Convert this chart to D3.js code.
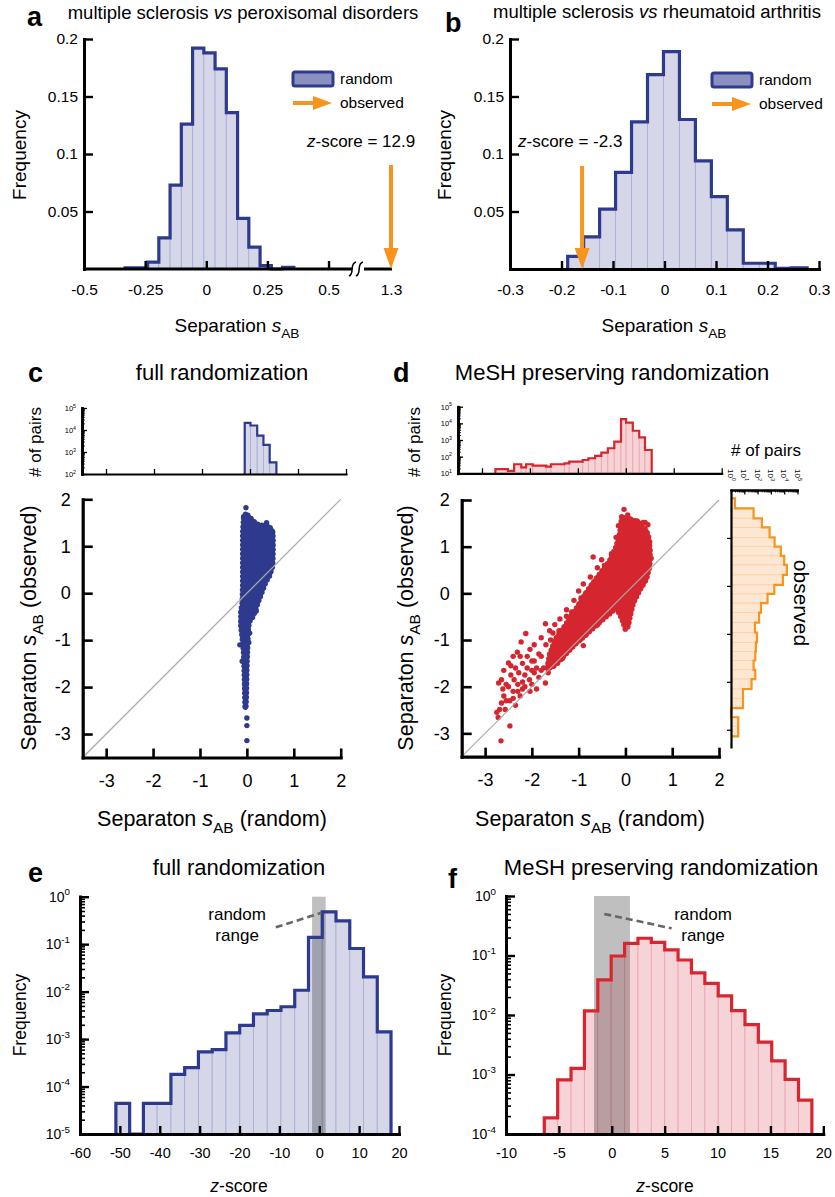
<!DOCTYPE html>
<html><head><meta charset="utf-8">
<script src="https://cdn.jsdelivr.net/npm/d3@7"></script>
<style>body{margin:0;background:#fff}svg{display:block;background:#fff}</style>
</head><body><svg id="c" width="835" height="1197"></svg>
<script>
// ---------------- DATA ----------------
// panel a: random separation histogram (MS vs peroxisomal disorders)
const aEdges = [-0.332,-0.286,-0.240,-0.194,-0.148,-0.102,-0.056,-0.010,0.036,0.082,0.128,0.174,0.220,0.266,0.312,0.358];
const aFreq  = [0.001,0.001,0.006,0.027,0.073,0.126,0.192,0.188,0.174,0.136,0.044,0.019,0.003,0,0.0015];
const aXTicks = [-0.5,-0.25,0,0.25,0.5,1.3];
const aYTicks = [0.05,0.1,0.15,0.2];
const aObserved = 1.3, aZ = "12.9";
// panel b: MS vs rheumatoid arthritis
const bEdges = [-0.188,-0.157,-0.126,-0.095,-0.064,-0.033,-0.002,0.029,0.060,0.091,0.122,0.153,0.184,0.215,0.246,0.277];
const bFreq  = [0.011,0.028,0.052,0.084,0.128,0.169,0.189,0.130,0.094,0.063,0.034,0.005,0.005,0.0005,0.001];
const bXTicks = [-0.3,-0.2,-0.1,0,0.1,0.2,0.3];
const bYTicks = [0.05,0.1,0.15,0.2];
const bObserved = -0.16, bZ = "-2.3";
const legendLabels = ["random","observed"];
// panel c: top histogram of random separations (# of pairs)
const cTopEdges  = [-0.11,0.01,0.15,0.28,0.41,0.55];
const cTopCounts = [21000,16000,5600,2100,340];
// panel d: top histogram
const dTopEdges  = [-2.72,-2.46,-2.33,-2.18,-2.08,-1.94,-1.66,-1.56,-1.28,-1.18,-0.90,-0.78,-0.64,-0.51,-0.375,-0.24,-0.10,0.006,0.146,0.28,0.40,0.54];
const dTopCounts = [18,14,35,23,35,29,25,35,40,50,63,80,110,175,320,800,18000,11000,3600,1450,250];
// panel d: right histogram of observed separations (bins top to bottom)
const dRightEdges  = [1.826,1.618,1.41,1.22,1.01,0.82,0.625,0.4375,0.229,0.021,-0.167,-0.36,-0.556,-0.764,-0.972,-1.18,-1.368,-1.556,-1.75,-1.944,-2.15,-2.35,-2.55,-2.74,-2.93,-3.14];
const dRightCounts = [2,50,210,800,1900,5600,10000,16000,8000,1800,560,180,130,63,90,75,67,50,67,35,8,8,1,3.5,3.5];
const scatterTicks = [-3,-2,-1,0,1,2];
// panel c scatter: dense cloud outline (random, observed) and isolated points
const cCloud = [[-0.07,1.63],[0.02,1.66],[0.1,1.58],[0.2,1.48],[0.3,1.45],[0.42,1.45],[0.46,1.43],[0.54,1.35],[0.56,1.2],[0.56,0.9],[0.55,0.57],[0.48,0.36],[0.41,0.25],[0.34,0.07],[0.21,-0.28],[0.14,-0.49],[0.05,-0.62],[0.03,-0.8],[0.02,-1.06],[0.0,-1.63],[-0.01,-2.2],[-0.02,-2.45],[-0.04,-2.45],[-0.05,-2.0],[-0.06,-1.6],[-0.07,-1.3],[-0.1,-0.95],[-0.13,-0.7],[-0.13,-0.4],[-0.1,-0.2],[-0.09,0.2],[-0.09,0.8],[-0.09,1.3]];
const cDots = [[-0.02,1.82],[0.0,-2.66],[0.0,-2.82],[0.0,-3.14],[-0.15,-1.1],[-0.03,1.68],[0.42,1.5],[0.5,1.36],[0.55,1.3],[-0.1,-1.45],[0.04,-1.05],[0.06,-0.85],[0.2,-0.38],[-0.12,-0.62]];
// panel d scatter
const dCloud = [[-0.08,1.64],[0.1,1.6],[0.31,1.5],[0.45,1.35],[0.5,1.2],[0.53,0.9],[0.52,0.58],[0.45,0.3],[0.3,0.05],[0.17,-0.21],[0.1,-0.5],[0.06,-0.71],[0.0,-0.78],[-0.06,-0.6],[-0.12,-0.45],[-0.2,-0.32],[-0.35,-0.45],[-0.55,-0.62],[-0.8,-0.85],[-1.04,-1.06],[-1.3,-1.33],[-1.55,-1.58],[-1.68,-1.62],[-1.62,-1.3],[-1.5,-0.98],[-1.3,-0.7],[-1.04,-0.3],[-0.8,0.08],[-0.55,0.42],[-0.35,0.68],[-0.2,1.0],[-0.12,1.3]];
const dDots = [[-0.03,1.8],[-0.69,0.78],[-0.51,0.72],[-0.6,0.55],[-0.75,0.35],[-0.9,0.2],[-1.0,0.05],[-1.1,-0.15],[-1.26,-0.35],[-1.26,-0.49],[-1.4,-0.55],[-1.51,-0.67],[-1.71,-0.65],[-1.62,-0.8],[-1.8,-0.95],[-2.13,-0.86],[-2.23,-1.04],[-1.95,-1.1],[-2.04,-1.2],[-2.31,-1.26],[-2.1,-1.35],[-2.5,-1.49],[-2.2,-1.5],[-1.95,-1.45],[-2.35,-1.6],[-2.0,-1.65],[-2.6,-1.65],[-2.45,-1.75],[-2.15,-1.75],[-1.85,-1.8],[-2.71,-1.92],[-2.55,-1.95],[-2.3,-1.95],[-2.0,-1.95],[-1.71,-1.92],[-2.04,-2.1],[-2.4,-2.1],[-2.6,-2.2],[-2.25,-2.2],[-2.47,-2.3],[-2.69,-2.49],[-2.57,-2.49],[-2.72,-2.66],[-2.47,-2.84],[-2.66,-3.16],[-0.9,-1.12],[-1.04,-0.93],[-1.2,-1.2],[-1.5,-1.35],[-1.6,-1.5],[-1.75,-1.6],[-2.4,-1.35],[-2.65,-1.85],[-2.35,-2.4],[-1.9,-2.05],[-0.45,0.6],[-0.3,0.85],[-0.2,1.2],[0.48,1.47],[0.42,1.52],[-1.8,-1.35],[-1.9,-1.6],[-2.2,-1.9],[-1.45,-1.15],
  [-2.55,-2.3],[-2.62,-2.05],[-2.5,-2.0],[-2.38,-1.85],[-2.28,-1.7],[-2.1,-1.6],[-1.95,-1.7],[-2.25,-1.35],[-2.45,-1.55],[-2.15,-2.0],[-2.3,-2.1],[-2.0,-1.45],[-1.85,-1.3],[-1.7,-1.1],[-1.6,-1.0],[-1.55,-0.85],[-1.42,-0.8],[-1.35,-0.95],[-1.2,-0.55],[-1.15,-0.4],[-0.95,-0.1],[-0.85,0.0],[-0.7,0.2],[-0.62,0.3],[-0.4,0.55],[-0.28,0.75],[-0.15,1.45],[0.05,1.68],[0.25,1.55],[0.38,1.52],[0.52,1.1],[0.55,0.75],[-1.45,-1.5],[-1.8,-1.65],[-1.65,-1.7],[-1.1,-1.05],[-0.85,-0.9],[-0.6,-0.68],[-0.95,-0.98],[-1.35,-1.4],[-2.4,-2.25],[-2.2,-2.05],[-2.05,-1.85],[-2.65,-2.35],[-2.75,-2.55]];
// panel e: z-score distribution, full randomization
const eEdges = [-51,-47.55,-44.1,-40.65,-37.2,-33.75,-30.3,-26.85,-23.4,-19.95,-16.5,-13.05,-9.6,-6.15,-2.7,0.75,4.2,7.65,11.1,14.55,18.0];
const eFreq  = [4.4e-5,null,4.4e-5,4.4e-5,1.8e-4,2.5e-4,5.4e-4,6e-4,1.35e-3,1.95e-3,3.4e-3,4e-3,4.8e-3,1.07e-2,0.139,0.48,0.31,0.081,0.0205,1.42e-3];
const eXTicks = [-60,-50,-40,-30,-20,-10,0,10,20];
const eRange = [-1.8,1.6];
// panel f: z-score distribution, MeSH preserving randomization
const fEdges = [-6.38,-5.115,-3.85,-2.585,-1.32,-0.055,1.21,2.475,3.74,5.005,6.27,7.535,8.8,10.065,11.33,12.595,13.86,15.125,16.39,17.655,18.92];
const fFreq  = [1.87e-4,8.1e-4,1.27e-3,0.0117,0.039,0.098,0.16,0.195,0.166,0.124,0.084,0.051,0.034,0.021,0.0118,0.0069,0.0035,0.0017,8.3e-4,3.7e-4];
const fXTicks = [-10,-5,0,5,10,15,20];
const fRange = [-1.68,1.72];

// ---------------- STYLE / HELPERS ----------------
const FONT = '"Liberation Sans", Arial, Helvetica, sans-serif';
const NAVY = '#2d3a8e', REDC = '#d52630', ORANGEC = '#f7941d';
const BLUE = {fill:'#d5d7e9', inner:'#aaaed5', stroke:NAVY};
const RED = {fill:'#f6d3d7', inner:'#eba7ae', stroke:'#d7262f'};
const ORANGE = {fill:'#fde7d2', inner:'#fbd2aa', stroke:ORANGEC};
const svg = d3.select('#c').attr('font-family', FONT);

function vBars(g, edges, vals, x, y, base, st) {
  const bins = vals.map((v,i)=>({a:edges[i], b:edges[i+1], v:(v==null||v<base)?base:v}));
  g.append('g').selectAll('rect').data(bins).join('rect')
    .attr('x', d=>x(d.a)).attr('width', d=>x(d.b)-x(d.a))
    .attr('y', d=>y(d.v)).attr('height', d=>Math.max(0,y(base)-y(d.v)))
    .attr('fill', st.fill).attr('stroke', st.inner).attr('stroke-width', 0.9);
}
function vOutline(g, edges, vals, x, y, base, st, w) {
  const pts=[[x(edges[0]), y(base)]];
  vals.forEach((v,i)=>{const vv=(v==null||v<base)?base:v; pts.push([x(edges[i]),y(vv)],[x(edges[i+1]),y(vv)]);});
  pts.push([x(edges[edges.length-1]), y(base)]);
  g.append('path').attr('d', d3.line()(pts)).attr('fill','none').attr('stroke',st.stroke)
    .attr('stroke-width',w).attr('stroke-linejoin','miter');
}
function hBars(g, edges, vals, x, y, base, st) {
  const bins = vals.map((v,i)=>({a:edges[i], b:edges[i+1], v:(v==null||v<base)?base:v}));
  g.append('g').selectAll('rect').data(bins).join('rect')
    .attr('y', d=>y(d.a)).attr('height', d=>y(d.b)-y(d.a))
    .attr('x', x(base)).attr('width', d=>x(d.v)-x(base))
    .attr('fill', st.fill).attr('stroke', st.inner).attr('stroke-width', 0.9);
}
function hOutline(g, edges, vals, x, y, base, st, w) {
  const pts=[[x(base), y(edges[0])]];
  vals.forEach((v,i)=>{const vv=(v==null||v<base)?base:v; pts.push([x(vv),y(edges[i])],[x(vv),y(edges[i+1])]);});
  pts.push([x(base), y(edges[edges.length-1])]);
  g.append('path').attr('d', d3.line()(pts)).attr('fill','none').attr('stroke',st.stroke)
    .attr('stroke-width',w).attr('stroke-linejoin','miter');
}
function ax(g, axis, tx, ty, fs, sw, tw) {
  const s = g.append('g').attr('transform',`translate(${tx},${ty})`).call(axis);
  s.attr('font-family', FONT).attr('font-size', fs);
  s.select('.domain').attr('stroke','#000').attr('stroke-width', sw).attr('stroke-linecap','square');
  s.selectAll('.tick line').attr('stroke','#000').attr('stroke-width', tw||sw);
  s.selectAll('.tick text').attr('fill','#000');
  return s;
}
function supLabels(s, fs) {
  s.selectAll('.tick text').each(function(d){
    const t=d3.select(this); const e=Math.round(Math.log10(d));
    t.text(null);
    t.append('tspan').text('10');
    t.append('tspan').attr('dy', -fs*0.45).attr('font-size', fs*0.7).text(e);
  });
}
function logTicks(lo, hi) {
  const out=[];
  for (let e=Math.round(Math.log10(lo)); e<Math.round(Math.log10(hi)); e++)
    for (let k=1;k<=9;k++){ const v=k*Math.pow(10,e); if(v>=lo && v<=hi) out.push(v); }
  out.push(hi); return out;
}
function decades(lo, hi){ const o=[]; for(let e=Math.round(Math.log10(lo)); e<=Math.round(Math.log10(hi)); e++) o.push(Math.pow(10,e)); return o; }
function text(g, x, y, s, fs, opts={}) {
  const t = g.append('text').attr('x',x).attr('y',y).attr('font-size',fs).attr('fill','#000')
    .attr('text-anchor', opts.anchor||'start');
  if (opts.weight) t.attr('font-weight', opts.weight);
  if (s!=null) t.text(s);
  return t;
}
function rtext(g, x, y, fs, angle) {
  return g.append('text').attr('transform',`translate(${x},${y}) rotate(${angle})`)
    .attr('text-anchor','middle').attr('font-size',fs).attr('fill','#000');
}
function sAB(t, fs, before, after) {
  if (before) t.append('tspan').text(before);
  t.append('tspan').attr('font-style','italic').text('s');
  t.append('tspan').attr('dy', fs*0.32).attr('font-size', fs*0.72).text('AB');
  if (after) t.append('tspan').attr('dy', -fs*0.32).text(after);
}
function zText(t, after) {
  t.append('tspan').attr('font-style','italic').text('z');
  t.append('tspan').text(after);
}
function downArrow(g, x, yTop, yTip) {
  g.append('line').attr('x1',x).attr('x2',x).attr('y1',yTop).attr('y2',yTip-16)
    .attr('stroke',ORANGEC).attr('stroke-width',4);
  g.append('path').attr('d',`M${x-7.5},${yTip-21} L${x+7.5},${yTip-21} L${x},${yTip} Z`).attr('fill',ORANGEC);
}
function legend(g, x, y) {
  g.append('rect').attr('x',x).attr('y',y).attr('width',40).attr('height',14).attr('rx',2)
    .attr('fill','#8a90c0').attr('stroke',NAVY).attr('stroke-width',3);
  text(g, x+47, y+12, legendLabels[0], 15.5);
  g.append('line').attr('x1',x).attr('x2',x+22).attr('y1',y+31).attr('y2',y+31).attr('stroke',ORANGEC).attr('stroke-width',4);
  g.append('path').attr('d',`M${x+20},${y+24} L${x+39},${y+31} L${x+20},${y+38} Z`).attr('fill',ORANGEC);
  text(g, x+47, y+36, legendLabels[1], 15.5);
}
function cloud(g, pts, dots, x, y, col) {
  const d = d3.line().x(p=>x(p[0])).y(p=>y(p[1])).curve(d3.curveLinearClosed)(pts);
  g.append('path').attr('d', d).attr('fill',col).attr('stroke',col).attr('stroke-width',3.5).attr('stroke-linejoin','round');
  g.append('path').attr('d', d).attr('fill','none').attr('stroke',col).attr('stroke-width',5.4)
    .attr('stroke-linecap','round').attr('stroke-dasharray','0 4.5');
  g.append('g').selectAll('circle').data(dots).join('circle').attr('cx',p=>x(p[0])).attr('cy',p=>y(p[1])).attr('r',2.7).attr('fill',col);
  g.append('path').attr('d', d3.line().x(p=>x(p[0])).y(p=>y(p[1]))([[-3.5,-3.5],[2,2]])).attr('stroke','#aaa').attr('stroke-width',1.2).attr('fill','none');
}

// ---------------- PANEL a ----------------
{
  const g = svg.append('g');
  const x = d3.scaleLinear().domain([-0.5,0.6,1.3]).range([84,353,391]);
  const y = d3.scaleLinear().domain([0,0.2]).range([269,39]);
  vBars(g, aEdges, aFreq, x, y, 0, BLUE);
  vOutline(g, aEdges, aFreq, x, y, 0, BLUE, 3.2);
  const xs = ax(g, d3.axisBottom(x).tickValues(aXTicks).tickFormat(String).tickSize(-8).tickSizeOuter(0).tickPadding(15), 0, 269, 15.5, 3, 2.4);
  xs.select('.domain').remove();
  xs.selectAll('.tick').filter(d=>d===1.3).select('line').remove();
  g.append('line').attr('x1',83).attr('x2',352).attr('y1',269).attr('y2',269).attr('stroke','#000').attr('stroke-width',3);
  g.append('line').attr('x1',364).attr('x2',392).attr('y1',269).attr('y2',269).attr('stroke','#000').attr('stroke-width',3);
  g.append('path').attr('d','M349,276 C355,274 349,264 356,262').attr('fill','none').attr('stroke','#000').attr('stroke-width',1.5);
  g.append('path').attr('d','M356,276 C362,274 356,264 363,262').attr('fill','none').attr('stroke','#000').attr('stroke-width',1.5);
  ax(g, d3.axisLeft(y).tickValues(aYTicks).tickFormat(String).tickSize(-9).tickSizeOuter(0).tickPadding(6), 84, 0, 15.5, 3, 2.4);
  legend(g, 293, 72);
  zText(text(g, 307, 147, null, 17), '-score = ' + aZ);
  downArrow(g, x(aObserved), 165, 269);
  const tt = text(g, 243, 19, null, 18.5, {anchor:'middle'});
  tt.append('tspan').text('multiple sclerosis ');
  tt.append('tspan').attr('font-style','italic').text('vs');
  tt.append('tspan').text(' peroxisomal disorders');
  text(g, 27, 26, 'a', 27, {weight:'bold'});
  rtext(g, 26, 155, 19, -90).text('Frequency');
  sAB(text(g, 237, 332, null, 19, {anchor:'middle'}), 19, 'Separation ');
}
// ---------------- PANEL b ----------------
{
  const g = svg.append('g');
  const x = d3.scaleLinear().domain([-0.3,0.3]).range([510,819]);
  const y = d3.scaleLinear().domain([0,0.2]).range([269,39]);
  vBars(g, bEdges, bFreq, x, y, 0, BLUE);
  vOutline(g, bEdges, bFreq, x, y, 0, BLUE, 3.2);
  ax(g, d3.axisBottom(x).tickValues(bXTicks).tickFormat(d=>String(+d.toFixed(2))).tickSize(-8).tickSizeOuter(0).tickPadding(15), 0, 269, 15.5, 3, 2.4);
  ax(g, d3.axisLeft(y).tickValues(bYTicks).tickFormat(String).tickSize(-9).tickSizeOuter(0).tickPadding(6), 510, 0, 15.5, 3, 2.4);
  legend(g, 712, 73);
  zText(text(g, 518, 147, null, 17), '-score = ' + bZ);
  downArrow(g, x(bObserved), 166, 269);
  const tt = text(g, 657, 18, null, 18.5, {anchor:'middle'});
  tt.append('tspan').text('multiple sclerosis ');
  tt.append('tspan').attr('font-style','italic').text('vs');
  tt.append('tspan').text(' rheumatoid arthritis');
  text(g, 445, 32, 'b', 27, {weight:'bold'});
  rtext(g, 451, 155, 19, -90).text('Frequency');
  sAB(text(g, 664, 332, null, 19, {anchor:'middle'}), 19, 'Separation ');
}
// ---------------- PANEL c ----------------
{
  const g = svg.append('g');
  text(g, 28, 382, 'c', 27, {weight:'bold'});
  text(g, 222, 380, 'full randomization', 22, {anchor:'middle'});
  const xt = d3.scaleLinear().domain([-3.5,2]).range([82,346]);
  const yt = d3.scaleLog().domain([1e2,1e5]).range([474,408]);
  vBars(g, cTopEdges, cTopCounts, xt, yt, 1e2, BLUE);
  vOutline(g, cTopEdges, cTopCounts, xt, yt, 1e2, BLUE, 2.2);
  ax(g, d3.axisBottom(xt).tickValues(scatterTicks).tickFormat('').tickSize(-5).tickSizeOuter(0), 0, 474, 8, 2.2, 1.3);
  ax(g, d3.axisLeft(yt).tickValues(logTicks(1e2,1e5)).tickFormat('').tickSize(-3).tickSizeOuter(0), 82, 0, 8, 2.6, 0.8);
  const yl = ax(g, d3.axisLeft(yt).tickValues(decades(1e2,1e5)).tickSize(-5).tickSizeOuter(0).tickPadding(6), 82, 0, 7.5, 2.6, 1.3);
  supLabels(yl, 7.5);
  rtext(g, 41, 442, 17, -90).text('# of pairs');
  const x = d3.scaleLinear().domain([-3.5,2]).range([82.7,340.7]);
  const y = d3.scaleLinear().domain([-3.5,2]).range([757.5,499.3]);
  cloud(g, cCloud, cDots, x, y, NAVY);
  ax(g, d3.axisBottom(x).tickValues(scatterTicks).tickFormat(String).tickSize(-9).tickSizeOuter(0).tickPadding(17), 0, 757.5, 18, 3.2, 2.6);
  ax(g, d3.axisLeft(y).tickValues(scatterTicks).tickFormat(String).tickSize(-10).tickSizeOuter(0).tickPadding(12), 82.7, 0, 18, 3.2, 2.6);
  sAB(rtext(g, 36, 628, 21.5, -90), 21.5, 'Separaton ', ' (observed)');
  sAB(text(g, 212, 826, null, 21.5, {anchor:'middle'}), 21.5, 'Separaton ', ' (random)');
}
// ---------------- PANEL d ----------------
{
  const g = svg.append('g');
  text(g, 393, 382, 'd', 27, {weight:'bold'});
  text(g, 612, 380, 'MeSH preserving randomization', 22, {anchor:'middle'});
  const xt = d3.scaleLinear().domain([-3.5,2]).range([458,721.7]);
  const yt = d3.scaleLog().domain([1e1,1e5]).range([473.3,406.7]);
  vBars(g, dTopEdges, dTopCounts, xt, yt, 1e1, RED);
  vOutline(g, dTopEdges, dTopCounts, xt, yt, 1e1, RED, 2.2);
  ax(g, d3.axisBottom(xt).tickValues(scatterTicks).tickFormat('').tickSize(-5).tickSizeOuter(0), 0, 473.3, 8, 2.2, 1.3);
  ax(g, d3.axisLeft(yt).tickValues(logTicks(1e1,1e5)).tickFormat('').tickSize(-3).tickSizeOuter(0), 458, 0, 8, 2.6, 0.8);
  const yl = ax(g, d3.axisLeft(yt).tickValues(decades(1e1,1e5)).tickSize(-5).tickSizeOuter(0).tickPadding(6), 458, 0, 7.5, 2.6, 1.3);
  supLabels(yl, 7.5);
  rtext(g, 420, 442, 17, -90).text('# of pairs');
  const xr = d3.scaleLog().domain([1,1e5]).range([731,797.5]);
  const yr = d3.scaleLinear().domain([-3.36,2]).range([747,490]);
  hBars(g, dRightEdges, dRightCounts, xr, yr, 1, ORANGE);
  hOutline(g, dRightEdges, dRightCounts, xr, yr, 1, ORANGE, 2.2);
  ax(g, d3.axisTop(xr).tickValues(logTicks(1,1e5)).tickFormat('').tickSize(-2.5).tickSizeOuter(0), 0, 490, 8, 2, 0.8);
  ax(g, d3.axisTop(xr).tickValues(decades(1,1e5)).tickFormat('').tickSize(-4.5).tickSizeOuter(0), 0, 490, 8, 2, 1.2);
  ax(g, d3.axisLeft(yr).tickValues([-3,-2,-1,0,1]).tickFormat('').tickSize(4).tickSizeOuter(0), 731, 0, 8, 2.2, 1.2);
  decades(1,1e5).forEach(v=>{
    const t = g.append('text').attr('transform',`translate(${xr(v)-3},469) rotate(90)`).attr('font-size',8).attr('fill','#000');
    t.append('tspan').text('10');
    t.append('tspan').attr('dy',-3.5).attr('font-size',5.6).text(Math.round(Math.log10(v)));
  });
  text(g, 766, 456, '# of pairs', 17, {anchor:'middle'});
  rtext(g, 794, 603, 21, 90).text('observed');
  const x = d3.scaleLinear().domain([-3.5,2]).range([461.7,719]);
  const y = d3.scaleLinear().domain([-3.5,2]).range([756.7,500]);
  cloud(g, dCloud, dDots, x, y, REDC);
  ax(g, d3.axisBottom(x).tickValues(scatterTicks).tickFormat(String).tickSize(-9).tickSizeOuter(0).tickPadding(17), 0, 756.7, 18, 3.2, 2.6);
  ax(g, d3.axisLeft(y).tickValues(scatterTicks).tickFormat(String).tickSize(-10).tickSizeOuter(0).tickPadding(12), 461.7, 0, 18, 3.2, 2.6);
  sAB(rtext(g, 413, 628, 21.5, -90), 21.5, 'Separaton ', ' (observed)');
  sAB(text(g, 590, 826, null, 21.5, {anchor:'middle'}), 21.5, 'Separaton ', ' (random)');
}
// ---------------- PANEL e ----------------
{
  const g = svg.append('g');
  const x = d3.scaleLinear().domain([-60,20]).range([80,399]);
  const y = d3.scaleLog().domain([1e-5,1]).range([1134,896.7]);
  vBars(g, eEdges, eFreq, x, y, 1e-5, BLUE);
  g.append('rect').attr('x',x(eRange[0])).attr('width',x(eRange[1])-x(eRange[0])).attr('y',y(1)).attr('height',y(1e-5)-y(1))
    .attr('fill','#000').attr('fill-opacity',0.25);
  vOutline(g, eEdges, eFreq, x, y, 1e-5, BLUE, 3.2);
  ax(g, d3.axisBottom(x).tickValues(eXTicks).tickFormat(String).tickSize(-8).tickSizeOuter(0).tickPadding(14), 0, 1134, 14.5, 3, 2.4);
  ax(g, d3.axisLeft(y).tickValues(logTicks(1e-5,1)).tickFormat('').tickSize(-5).tickSizeOuter(0), 80, 0, 14, 3, 1.6);
  const yl = ax(g, d3.axisLeft(y).tickValues(decades(1e-5,1)).tickSize(-9).tickSizeOuter(0).tickPadding(10), 80, 0, 14, 3, 2.4);
  supLabels(yl, 14);
  g.append('path').attr('d', d3.line().x(d=>x(d[0])).y(d=>y(d[1]))([[-10.9,0.226],[0.58,0.46]]))
    .attr('stroke','#666').attr('stroke-width',2.6).attr('stroke-dasharray','7,4').attr('fill','none');
  text(g, x(-20.6), 920, 'random', 17, {anchor:'middle'});
  text(g, x(-20.6), 941, 'range', 17, {anchor:'middle'});
  text(g, 28, 882, 'e', 27, {weight:'bold'});
  text(g, 239, 875, 'full randomization', 22, {anchor:'middle'});
  rtext(g, 26, 1015, 17.5, -90).text('Frequency');
  zText(text(g, 239, 1192, null, 17.5, {anchor:'middle'}), '-score');
}
// ---------------- PANEL f ----------------
{
  const g = svg.append('g');
  const x = d3.scaleLinear().domain([-10,20]).range([506,823.3]);
  const y = d3.scaleLog().domain([1e-4,1]).range([1134,896]);
  vBars(g, fEdges, fFreq, x, y, 1e-4, RED);
  g.append('rect').attr('x',x(fRange[0])).attr('width',x(fRange[1])-x(fRange[0])).attr('y',y(1)).attr('height',y(1e-4)-y(1))
    .attr('fill','#000').attr('fill-opacity',0.25);
  vOutline(g, fEdges, fFreq, x, y, 1e-4, RED, 3.2);
  ax(g, d3.axisBottom(x).tickValues(fXTicks).tickFormat(String).tickSize(-8).tickSizeOuter(0).tickPadding(14), 0, 1134, 14.5, 3, 2.4);
  ax(g, d3.axisLeft(y).tickValues(logTicks(1e-4,1)).tickFormat('').tickSize(-5).tickSizeOuter(0), 506, 0, 14, 3, 1.6);
  const yl = ax(g, d3.axisLeft(y).tickValues(decades(1e-4,1)).tickSize(-9).tickSizeOuter(0).tickPadding(10), 506, 0, 14, 3, 2.4);
  supLabels(yl, 14);
  g.append('path').attr('d', d3.line().x(d=>x(d[0])).y(d=>y(d[1]))([[-0.71,0.5],[5.66,0.286]]))
    .attr('stroke','#666').attr('stroke-width',2.6).attr('stroke-dasharray','7,4').attr('fill','none');
  text(g, 703, 920, 'random', 17, {anchor:'middle'});
  text(g, 703, 941, 'range', 17, {anchor:'middle'});
  text(g, 448, 888, 'f', 27, {weight:'bold'});
  text(g, 661, 875, 'MeSH preserving randomization', 22, {anchor:'middle'});
  rtext(g, 451, 1015, 17.5, -90).text('Frequency');
  zText(text(g, 665, 1192, null, 17.5, {anchor:'middle'}), '-score');
}
</script>
</body></html>
